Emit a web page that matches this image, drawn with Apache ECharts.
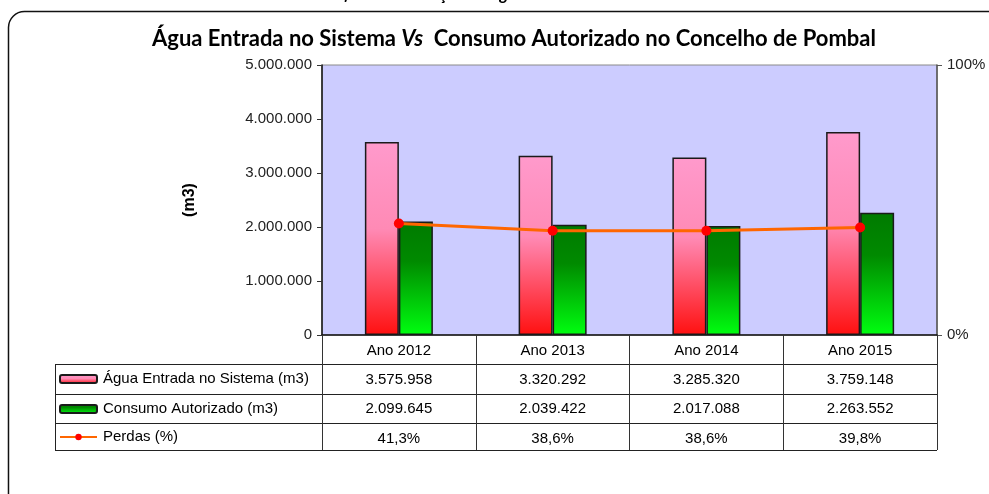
<!DOCTYPE html>
<html>
<head>
<meta charset="utf-8">
<script src="https://cdn.jsdelivr.net/npm/echarts@6/dist/echarts.min.js"></script>
<style>
  html, body { margin: 0; padding: 0; background: #fff; }
  #main { width: 989px; height: 494px; }
</style>
</head>
<body>
<div id="main"></div>
<script>
// Values
const anos = ['Ano 2012', 'Ano 2013', 'Ano 2014', 'Ano 2015'];
const aguaEntrada = [3575958, 3320292, 3285320, 3759148];
const consumoAutorizado = [2099645, 2039422, 2017088, 2263552];
const perdas = [41.3, 38.6, 38.6, 39.8];
const nomes = ['Água Entrada no Sistema (m3)', 'Consumo Autorizado (m3)', 'Perdas (%)'];
const leftTicks = [0, 5000000, 1000000];   // min, max, step
const rightTicks = [0, 100, 100];

const FONT = '"Liberation Sans", Arial, sans-serif';

// layout of plot area / table
const G = { left: 322, right: 937, top: 65, bottom: 335 };
const rows = [364, 394, 423, 450];
const tableLeft = 55;

function milhares(v) {
    return String(Math.round(v)).replace(/\B(?=(\d{3})+(?!\d))/g, '.');
}
function pct(v) {
    return v.toFixed(1).replace('.', ',') + '%';
}

var chartDom = document.getElementById('main');
var myChart = echarts.init(chartDom);
var option;

// table lines (horizontal rows + left border)
const tableLines = [];
rows.forEach(function (y) {
    tableLines.push({
        type: 'line',
        shape: { x1: tableLeft, y1: y + 0.5, x2: G.right, y2: y + 0.5 },
        style: { stroke: '#222', lineWidth: 1 }
    });
});
tableLines.push({
    type: 'line',
    shape: { x1: tableLeft + 0.5, y1: rows[0], x2: tableLeft + 0.5, y2: rows[3] + 1 },
    style: { stroke: '#222', lineWidth: 1 }
});

const legendBase = {
    orient: 'horizontal',
    left: 59,
    padding: 0,
    itemWidth: 37,
    itemHeight: 8,
    selectedMode: false,
    textStyle: { fontFamily: FONT, fontSize: 15, color: '#000', lineHeight: 16, padding: [0, 0, 0, 1] }
};

option = {
    animation: false,
    backgroundColor: '#fff',
    title: {
        left: 152,
        top: 28,
        padding: 0,
        text: '{b|Água Entrada no Sistema }{i|Vs}{b|  Consumo Autorizado no Concelho de Pombal}',
        textStyle: {
            rich: {
                b: { fontFamily: 'Lato, sans-serif', fontWeight: 'bold', fontSize: 22, color: '#000' },
                i: { fontFamily: 'Lato, sans-serif', fontWeight: 'bold', fontStyle: 'italic', fontSize: 22, color: '#000' }
            }
        }
    },
    legend: [
        Object.assign({}, legendBase, { data: [nomes[0]], top: 371 }),
        Object.assign({}, legendBase, { data: [nomes[1]], top: 401 }),
        Object.assign({}, legendBase, { data: [nomes[2]], top: 429 })
    ],
    grid: {
        left: G.left,
        right: 989 - G.right,
        top: G.top,
        bottom: 494 - G.bottom,
        show: true,
        backgroundColor: '#CCCCFF',
        borderColor: '#8a8a8a',
        borderWidth: 1
    },
    xAxis: {
        type: 'category',
        data: anos,
        axisLine: { lineStyle: { color: '#111', width: 1.5 } },
        axisTick: { show: true, length: rows[3] - G.bottom, lineStyle: { color: '#333' } },
        axisLabel: {
            margin: 1,
            interval: 0,
            formatter: function (value, idx) {
                return '{h|' + value + '}\n{v|' + milhares(aguaEntrada[idx]) + '}\n{v|' +
                    milhares(consumoAutorizado[idx]) + '}\n{v|' + pct(perdas[idx]) + '}';
            },
            rich: {
                h: { fontFamily: FONT, fontSize: 15, color: '#000', lineHeight: 29 },
                v: { fontFamily: FONT, fontSize: 15, color: '#000', lineHeight: 29.5 }
            }
        }
    },
    yAxis: [
        {
            type: 'value',
            min: leftTicks[0],
            max: leftTicks[1],
            interval: leftTicks[2],
            name: '(m3)',
            nameLocation: 'middle',
            nameRotate: 90,
            nameGap: 124,
            nameTextStyle: { fontFamily: FONT, fontWeight: 'bold', fontSize: 16, color: '#000' },
            axisLine: { show: true, lineStyle: { color: '#111', width: 1.5 } },
            axisTick: { show: true, length: 5, lineStyle: { color: '#333' } },
            splitLine: { show: false },
            axisLabel: {
                margin: 10,
                fontFamily: FONT,
                fontSize: 15,
                color: '#222',
                formatter: function (v) { return milhares(v); }
            }
        },
        {
            type: 'value',
            min: rightTicks[0],
            max: rightTicks[1],
            interval: rightTicks[2],
            position: 'right',
            axisLine: { show: true, lineStyle: { color: '#555', width: 1.5 } },
            axisTick: { show: true, length: 5, lineStyle: { color: '#555' } },
            splitLine: { show: false },
            axisLabel: {
                margin: 10,
                fontFamily: FONT,
                fontSize: 15,
                color: '#222',
                formatter: '{value}%'
            }
        }
    ],
    series: [
        {
            name: nomes[0],
            type: 'bar',
            data: aguaEntrada,
            barWidth: 34,
            barGap: '0%',
            itemStyle: {
                color: new echarts.graphic.LinearGradient(0, 0, 0, 1, [
                    { offset: 0, color: '#FF9ACC' },
                    { offset: 0.45, color: '#FF8AB5' },
                    { offset: 1, color: '#FF1010' }
                ]),
                borderColor: '#1a1a1a',
                borderWidth: 1.5
            }
        },
        {
            name: nomes[1],
            type: 'bar',
            data: consumoAutorizado,
            barWidth: 34,
            barGap: '0%',
            itemStyle: {
                color: new echarts.graphic.LinearGradient(0, 0, 0, 1, [
                    { offset: 0, color: '#007A00' },
                    { offset: 0.35, color: '#008A00' },
                    { offset: 1, color: '#00FF10' }
                ]),
                borderColor: '#1a1a1a',
                borderWidth: 1.5
            }
        },
        {
            name: nomes[2],
            type: 'line',
            yAxisIndex: 1,
            data: perdas,
            symbol: 'circle',
            symbolSize: 10,
            lineStyle: { color: '#FF6600', width: 3 },
            itemStyle: { color: '#FF0000' },
            z: 5
        }
    ],
    graphic: [
        {
            type: 'text',
            left: 318,
            top: -14,
            style: {
                text: 'Gráfico 3 – Evolução da água entrada vs Consumo autorizado',
                font: 'italic bold 17px Lato, sans-serif',
                fill: '#000'
            }
        },
        {
            type: 'rect',
            shape: { x: 8.5, y: 11.5, width: 1100, height: 600, r: 16 },
            style: { fill: 'none', stroke: '#111', lineWidth: 1.5 }
        }
    ].concat(tableLines)
};

option && myChart.setOption(option);
</script>
</body>
</html>
